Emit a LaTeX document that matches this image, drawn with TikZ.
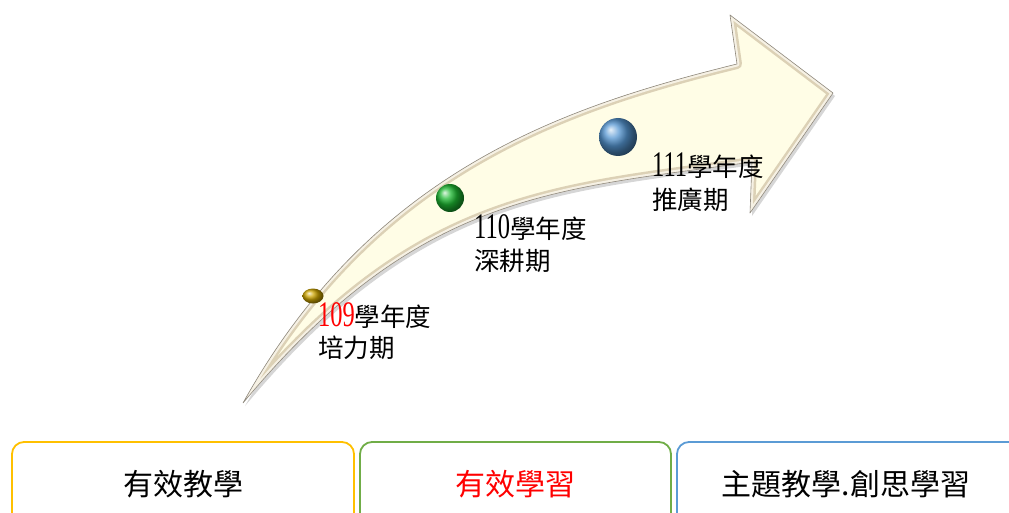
\documentclass[tikz,border=0pt]{standalone}
\usepackage{fontspec}
\usepackage{graphicx}
\setmainfont{Liberation Serif}
\newfontfamily\cjk{Noto Sans CJK TC}
\newfontfamily\serifdig{Liberation Serif}
\usetikzlibrary{shapes.geometric}
\definecolor{cream}{HTML}{FFFDE6}
\definecolor{beveltan}{HTML}{DCD1B6}
\definecolor{bevellight}{HTML}{F6F1E4}
\definecolor{edgegray}{HTML}{8F897F}
\definecolor{gold}{HTML}{FFC000}
\definecolor{grn}{HTML}{70AD47}
\definecolor{blu}{HTML}{5B9BD5}
\newcommand\mydigits[1]{\scalebox{0.68}[1]{\serifdig\fontsize{36}{36}\selectfont #1}}
\newcommand\myarrowpath{(243,403) .. controls (373,169) and (567,106) .. (737,64) -- (730,15) -- (833,93) -- (750,213) -- (752,162) .. controls (552,190) and (418,193) .. (243,403) -- cycle}
\begin{document}
\begin{tikzpicture}[x=1pt,y=-1pt,
  lbl/.style={anchor=west,inner sep=0pt,font=\cjk\fontsize{25.5}{25.5}\selectfont},
  boxlbl/.style={inner sep=0pt,font=\cjk\fontsize{30}{30}\selectfont},
  frame/.style={rounded corners=12pt,line width=1.8pt},
  ballnode/.style={shading=ball,inner sep=0pt,draw=none}]
\useasboundingbox (0,0) rectangle (1009,513);
\begin{scope}
\clip (0,0) rectangle (1009,513);
% arrow shadow
\fill[black,opacity=0.16,shift={(2,3)}] \myarrowpath;
% arrow body with bevel
\begin{scope}
\clip \myarrowpath;
\fill[cream] \myarrowpath;
\draw[beveltan,line width=10pt,line join=round] \myarrowpath;
\draw[bevellight,line width=5pt,line join=round] \myarrowpath;
\end{scope}
\draw[edgegray,line width=0.6pt,line join=round] \myarrowpath;
% balls
\node[ballnode,ellipse,ball color={rgb,255:red,205;green,165;blue,0},minimum width=21pt,minimum height=15pt] (b1) at (313,296) {};
\node[ballnode,circle,ball color={rgb,255:red,30;green,185;blue,50},minimum size=28pt] (b2) at (450,198) {};
\node[ballnode,circle,ball color={rgb,255:red,85;green,150;blue,210},minimum size=38pt] (b3) at (618,137) {};
% labels
\node[lbl] (l1a) at (318,316) {\mydigits{\color{red}109}學年度};
\node[lbl] (l1b) at (318,348) {培力期};
\node[lbl] (l2a) at (474,228) {\mydigits{110}學年度};
\node[lbl] (l2b) at (474,261) {深耕期};
\node[lbl] (l3a) at (652,166) {\mydigits{111}學年度};
\node[lbl] (l3b) at (652,200) {推廣期};
% bottom boxes
\draw[frame,gold] (12,442) rectangle (354,570);
\draw[frame,grn] (360,442) rectangle (671,570);
\draw[frame,blu] (677,442) rectangle (1040,570);
\node[boxlbl] (t1) at (183,484) {有效教學};
\node[boxlbl,text=red] (t2) at (515,484) {有效學習};
\node[boxlbl] (t3) at (846,484) {主題教學.創思學習};
\end{scope}
\end{tikzpicture}
\end{document}
